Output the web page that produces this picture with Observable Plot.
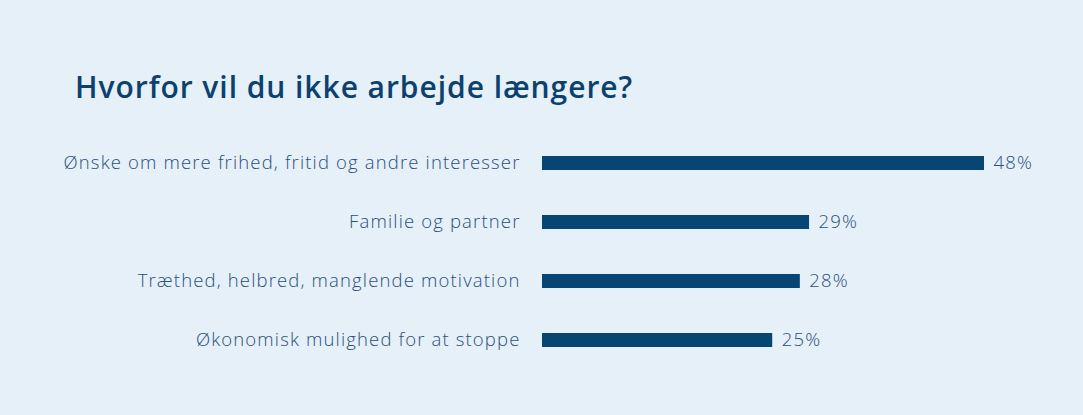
<!DOCTYPE html>
<html>
<head>
<meta charset="utf-8">
<script src="https://cdn.jsdelivr.net/npm/d3@7"></script>
<script src="https://cdn.jsdelivr.net/npm/@observablehq/plot@0.6"></script>
<style>
  html, body { margin: 0; padding: 0; }
  body { width: 1083px; height: 415px; background: #e5f0f8; overflow: hidden; position: relative; font-family: "Open Sans", sans-serif; }
  #title { position: absolute; left: 75px; top: 66px; margin: 0; font-size: 30px; font-weight: 600; letter-spacing: 0.95px; color: #0c416f; font-family: "Open Sans", sans-serif; }
  #chart { position: absolute; left: 0; top: 130px; }
  #chart svg text { letter-spacing: 1.15px; }
</style>
</head>
<body>
<h2 id="title">Hvorfor vil du ikke arbejde længere?</h2>
<div id="chart"></div>
<script>
const categories = [
  "Ønske om mere frihed, fritid og andre interesser",
  "Familie og partner",
  "Træthed, helbred, manglende motivation",
  "Økonomisk mulighed for at stoppe"
];
const values = [48, 29, 28, 25];
const valueLabels = ["48%", "29%", "28%", "25%"];

const data = categories.map((c, i) => ({category: c, value: values[i], label: valueLabels[i]}));

const plot = Plot.plot({
  width: 1083,
  height: 245,
  marginLeft: 542,
  marginRight: 99,
  marginTop: 19,
  marginBottom: 20,
  style: {background: "transparent", fontFamily: "'Open Sans', sans-serif"},
  x: {domain: [0, 48], axis: null},
  y: {domain: categories, paddingInner: 0.76, paddingOuter: 0.1, axis: null},
  marks: [
    Plot.barX(data, {x: "value", y: "category", fill: "#074673"}),
    Plot.text(data, {x: 0, y: "category", text: "category", textAnchor: "end", dx: -22, fill: "#2c4f7c", fontSize: 18.5, fontWeight: 300}),
    Plot.text(data, {x: "value", y: "category", text: "label", textAnchor: "start", dx: 9, fill: "#2c4f7c", fontSize: 18.5, fontWeight: 300})
  ]
});
document.getElementById("chart").appendChild(plot);
</script>
</body>
</html>
